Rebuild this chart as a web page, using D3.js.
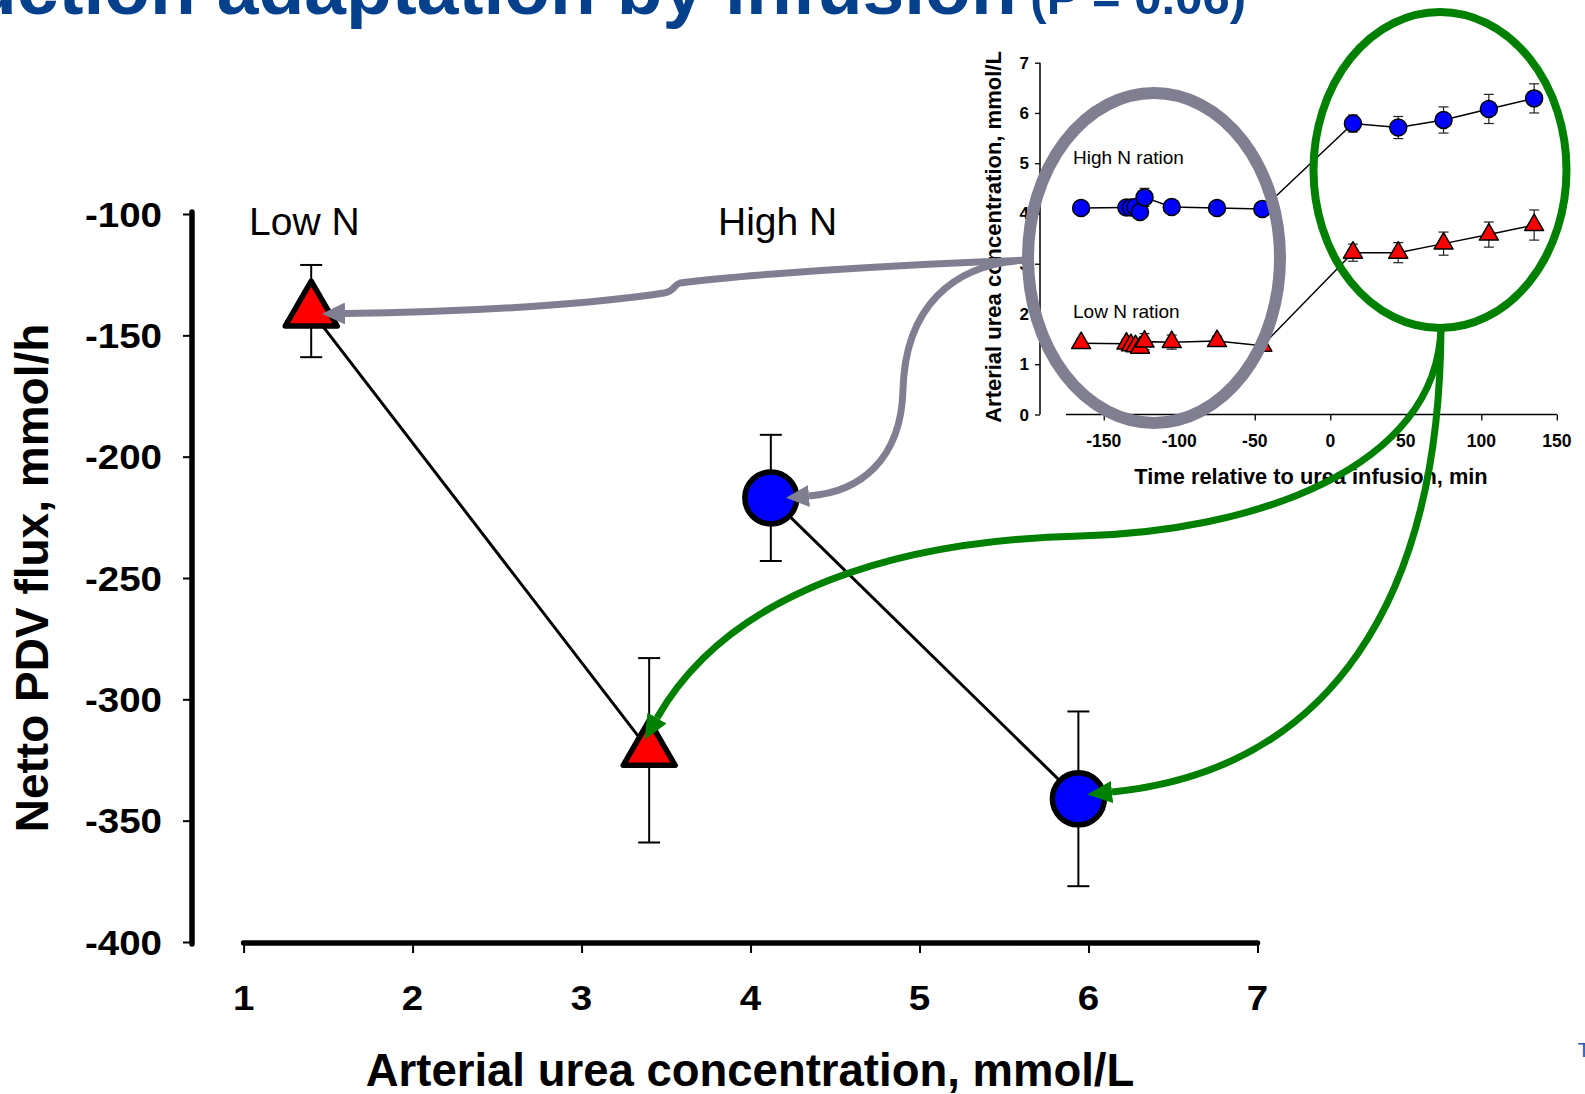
<!DOCTYPE html>
<html>
<head>
<meta charset="utf-8">
<script src="https://cdn.jsdelivr.net/npm/d3@7"></script>
<style>
  html, body { margin: 0; padding: 0; background: #fff; overflow: hidden; }
  svg { display: block; font-family: "Liberation Sans", Arial, sans-serif; }
</style>
</head>
<body>
<svg id="chart" width="1585" height="1094"></svg>
<script>
// ---- main panel: net PDV urea flux vs arterial urea ----
const groupNames = ["Low N", "High N"];
const lowNUrea = [1.40, 3.40];
const lowNFlux = [-140, -321];
const lowNErr = [19, 38];
const highNUrea = [4.12, 5.94];
const highNFlux = [-217, -341];
const highNErr = [26, 36];
const xTicks = [1, 2, 3, 4, 5, 6, 7];
const yTicks = [-100, -150, -200, -250, -300, -350, -400];

// ---- inset: arterial urea over time, around the urea infusion ----
const insetTime = [-165, -135, -132, -129, -126, -123, -105, -75, -45, 15, 45, 75, 105, 135];
const highNRation = [4.11, 4.12, 4.12, 4.13, 4.03, 4.32, 4.13, 4.11, 4.09, 5.79, 5.71, 5.86, 6.08, 6.29];
const highNRationErr = [0.06, 0.06, 0.06, 0.06, 0.06, 0.18, 0.08, 0.07, 0.07, 0.17, 0.22, 0.26, 0.29, 0.29];
const lowNRation = [1.42, 1.41, 1.38, 1.36, 1.33, 1.45, 1.44, 1.46, 1.37, 3.22, 3.22, 3.40, 3.58, 3.77];
const lowNRationErr = [0.08, 0.08, 0.08, 0.08, 0.08, 0.16, 0.14, 0.10, 0.08, 0.17, 0.20, 0.23, 0.25, 0.30];
const insetXTicks = [-150, -100, -50, 0, 50, 100, 150];
const insetYTicks = [0, 1, 2, 3, 4, 5, 6, 7];

const svg = d3.select("#chart");
const BLUE_TITLE = "#05408c";
const GRAY = "#807f92";
const GREEN = "#008000";

// ---------- title (runs off the top / left edge) ----------
const title = svg.append("text")
  .attr("x", 1246).attr("y", 13.5)
  .attr("text-anchor", "end")
  .attr("font-weight", "bold").attr("font-size", 75)
  .attr("fill", BLUE_TITLE)
  .text("Urea production adaptation by infusion");
title.append("tspan").attr("font-size", 49).text(" (P = 0.06)");

// ---------- main scales ----------
const x = d3.scaleLinear().domain([1, 7]).range([243.6, 1257.5]);
const y = d3.scaleLinear().domain([-400, -100]).range([942, 214]);

const main = svg.append("g");

// y axis: ticks via d3, thick spine drawn separately
const yAxis = main.append("g").attr("transform", "translate(192,0)")
  .call(d3.axisLeft(y).tickValues(yTicks).tickSize(9).tickFormat(""));
yAxis.select(".domain").remove();
yAxis.selectAll(".tick line").attr("stroke", "#000").attr("stroke-width", 2);
main.append("line").attr("x1", 192).attr("x2", 192).attr("y1", y(-100) - 2).attr("y2", y(-400) + 2)
  .attr("stroke", "#000").attr("stroke-width", 5.5).attr("stroke-linecap", "round");
yTicks.forEach(d => {
  main.append("text")
    .attr("transform", `translate(162,${y(d) + 12.5}) scale(1.1,1)`)
    .attr("text-anchor", "end").attr("font-weight", "bold").attr("font-size", 35)
    .text(String(d));
});

// x axis
const xAxisY = y(-400) + 1;
const xAxis = main.append("g").attr("transform", `translate(0,${xAxisY})`)
  .call(d3.axisBottom(x).tickValues(xTicks).tickSize(10).tickFormat(""));
xAxis.select(".domain").remove();
xAxis.selectAll(".tick line").attr("stroke", "#000").attr("stroke-width", 2);
main.append("line").attr("x1", x(1)).attr("x2", x(7)).attr("y1", xAxisY).attr("y2", xAxisY)
  .attr("stroke", "#000").attr("stroke-width", 5.5).attr("stroke-linecap", "round");
xTicks.forEach(d => {
  main.append("text")
    .attr("transform", `translate(${x(d)},1010) scale(1.1,1)`)
    .attr("text-anchor", "middle").attr("font-weight", "bold").attr("font-size", 35)
    .text(String(d));
});

// axis titles
main.append("text")
  .attr("x", 750).attr("y", 1086)
  .attr("text-anchor", "middle").attr("font-weight", "bold").attr("font-size", 45.5)
  .text("Arterial urea concentration, mmol/L");
main.append("text")
  .attr("transform", "translate(48,578) rotate(-90)")
  .attr("text-anchor", "middle").attr("font-weight", "bold").attr("font-size", 46)
  .text("Netto PDV flux, mmol/h");

// group labels
main.append("text").attr("x", 249).attr("y", 234.5).attr("font-size", 39).text(groupNames[0]);
main.append("text").attr("x", 718).attr("y", 234.5).attr("font-size", 39).text(groupNames[1]);

// series helpers
function trianglePath(side) {
  const h = side * Math.sqrt(3) / 2;
  return `M0,${-2 * h / 3}L${side / 2},${h / 3}L${-side / 2},${h / 3}Z`;
}
function drawSeries(g, xs, ys, es, sx, sy, opt) {
  const pts = xs.map((v, i) => ({ x: sx(v), y: sy(ys[i]), lo: sy(ys[i] - es[i]), hi: sy(ys[i] + es[i]) }));
  g.append("path")
    .attr("d", d3.line().x(p => p.x).y(p => p.y)(pts))
    .attr("fill", "none").attr("stroke", "#000").attr("stroke-width", opt.lineW);
  const eb = g.append("g").attr("stroke", opt.errColor).attr("stroke-width", opt.errW);
  pts.forEach(p => {
    eb.append("line").attr("x1", p.x).attr("x2", p.x).attr("y1", p.lo).attr("y2", p.hi);
    eb.append("line").attr("x1", p.x - opt.cap).attr("x2", p.x + opt.cap).attr("y1", p.hi).attr("y2", p.hi);
    eb.append("line").attr("x1", p.x - opt.cap).attr("x2", p.x + opt.cap).attr("y1", p.lo).attr("y2", p.lo);
  });
  pts.forEach(p => {
    if (opt.shape === "triangle") {
      g.append("path").attr("d", trianglePath(opt.size))
        .attr("transform", `translate(${p.x},${p.y})`)
        .attr("fill", "#ff0000").attr("stroke", "#000")
        .attr("stroke-width", opt.markW).attr("stroke-linejoin", "round");
    } else {
      g.append("circle").attr("cx", p.x).attr("cy", p.y).attr("r", opt.size)
        .attr("fill", "#0000ff").attr("stroke", "#000").attr("stroke-width", opt.markW);
    }
  });
}

const mainOpt = { lineW: 3, errColor: "#000", errW: 2, cap: 11, markW: 5.5 };
drawSeries(main.append("g"), lowNUrea, lowNFlux, lowNErr, x, y, { ...mainOpt, shape: "triangle", size: 52 });
drawSeries(main.append("g"), highNUrea, highNFlux, highNErr, x, y, { ...mainOpt, shape: "circle", size: 26 });

// ---------- inset ----------
const ix = d3.scaleLinear().domain([-175, 150]).range([1066, 1556.8]);
const iy = d3.scaleLinear().domain([0, 7]).range([414.5, 62.7]);
const inset = svg.append("g");

const iyAxis = inset.append("g").attr("transform", "translate(1040,0)")
  .call(d3.axisLeft(iy).tickValues(insetYTicks).tickSize(5).tickFormat(""));
iyAxis.select(".domain").remove();
iyAxis.selectAll(".tick line").attr("stroke", "#000").attr("stroke-width", 1.3);
inset.append("line").attr("x1", 1040).attr("x2", 1040).attr("y1", iy(7)).attr("y2", iy(0))
  .attr("stroke", "#000").attr("stroke-width", 1.5);
insetYTicks.forEach(d => {
  inset.append("text").attr("x", 1029).attr("y", iy(d) + 6)
    .attr("text-anchor", "end").attr("font-weight", "bold").attr("font-size", 17).text(String(d));
});

const ixAxis = inset.append("g").attr("transform", `translate(0,${iy(0)})`)
  .call(d3.axisBottom(ix).tickValues(insetXTicks).tickSize(6).tickFormat(""));
ixAxis.select(".domain").remove();
ixAxis.selectAll(".tick line").attr("stroke", "#000").attr("stroke-width", 1.3);
inset.append("line").attr("x1", ix(-175)).attr("x2", ix(150)).attr("y1", iy(0)).attr("y2", iy(0))
  .attr("stroke", "#000").attr("stroke-width", 1.5);
insetXTicks.forEach(d => {
  inset.append("text").attr("x", ix(d)).attr("y", 447)
    .attr("text-anchor", "middle").attr("font-weight", "bold").attr("font-size", 17.5).text(String(d));
});

inset.append("text").attr("x", 1311).attr("y", 484)
  .attr("text-anchor", "middle").attr("font-weight", "bold").attr("font-size", 21.8)
  .text("Time relative to urea infusion, min");
inset.append("text").attr("transform", "translate(1001,237) rotate(-90)")
  .attr("text-anchor", "middle").attr("font-weight", "bold").attr("font-size", 22)
  .text("Arterial urea concentration, mmol/L");

inset.append("text").attr("x", 1073).attr("y", 164).attr("font-size", 19).text("High N ration");
inset.append("text").attr("x", 1073).attr("y", 318).attr("font-size", 19).text("Low N ration");

const insetOpt = { lineW: 1.5, errColor: "#222", errW: 1.2, cap: 5, markW: 1.5 };
drawSeries(inset.append("g"), insetTime, lowNRation, lowNRationErr, ix, iy, { ...insetOpt, shape: "triangle", size: 19 });
drawSeries(inset.append("g"), insetTime, highNRation, highNRationErr, ix, iy, { ...insetOpt, shape: "circle", size: 8.5 });

// ---------- highlight ellipses and arrows ----------
const defs = svg.append("defs");
function head(id, color, len, wid) {
  defs.append("marker").attr("id", id)
    .attr("viewBox", `0 0 ${len} ${wid}`).attr("refX", 0).attr("refY", wid / 2)
    .attr("markerWidth", len).attr("markerHeight", wid)
    .attr("markerUnits", "userSpaceOnUse").attr("orient", "auto")
    .append("path").attr("d", `M0,0L${len},${wid / 2}L0,${wid}Z`).attr("fill", color);
}
head("headGray", GRAY, 23, 22);
head("headGreen", GREEN, 25, 22);

const notes = svg.append("g").attr("fill", "none");
notes.append("ellipse").attr("cx", 1154).attr("cy", 258).attr("rx", 126).attr("ry", 165)
  .attr("stroke", GRAY).attr("stroke-width", 12);
notes.append("ellipse").attr("cx", 1440).attr("cy", 170).attr("rx", 126.5).attr("ry", 158)
  .attr("stroke", GREEN).attr("stroke-width", 8);

// gray: pre-infusion levels -> baseline points
notes.append("path")
  .attr("d", "M1030,260 C900,264 740,275 680,283 C673,285 675,291 664,293 C600,303 480,312 345,313.5")
  .attr("stroke", GRAY).attr("stroke-width", 7).attr("marker-end", "url(#headGray)");
notes.append("path")
  .attr("d", "M1030,260 C950,262 905,310 903,390 C901,460 860,492 809,496")
  .attr("stroke", GRAY).attr("stroke-width", 7).attr("marker-end", "url(#headGray)");

// green: infusion levels -> infused points
notes.append("path")
  .attr("d", "M1441,327 C1438,470 1250,532 1080,536 C900,540 730,590 657,718")
  .attr("stroke", GREEN).attr("stroke-width", 7).attr("marker-end", "url(#headGreen)");
notes.append("path")
  .attr("d", "M1441,327 C1440,600 1330,770 1112,792")
  .attr("stroke", GREEN).attr("stroke-width", 7).attr("marker-end", "url(#headGreen)");

// page footer fragment at the right edge
svg.append("text").attr("x", 1577.5).attr("y", 1057).attr("font-size", 21)
  .attr("fill", "#2a5caa").text("T");
</script>
</body>
</html>
